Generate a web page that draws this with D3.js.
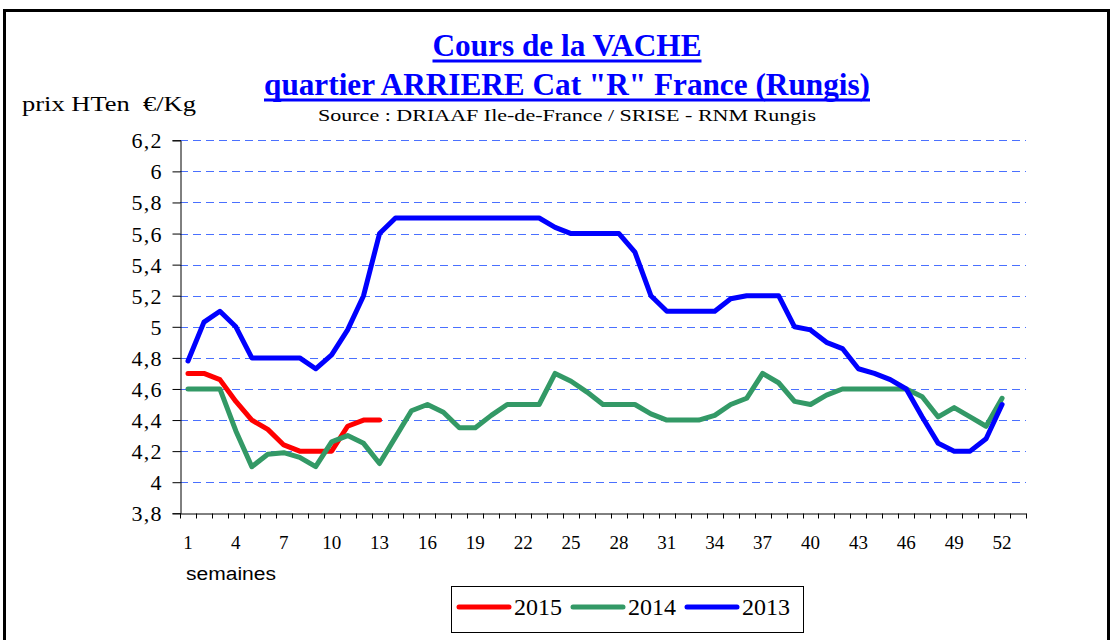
<!DOCTYPE html>
<html><head><meta charset="utf-8">
<script src="https://cdn.jsdelivr.net/npm/d3@7"></script>
<style>html,body{margin:0;padding:0;background:#fff}svg{display:block}</style>
</head><body>
<svg id="c" width="1114" height="640"></svg>
<script>
const weeks = d3.range(1, 54);
const xTickLabels = [1, 4, 7, 10, 13, 16, 19, 22, 25, 28, 31, 34, 37, 40, 43, 46, 49, 52];
const yTicks = [3.8, 4.0, 4.2, 4.4, 4.6, 4.8, 5.0, 5.2, 5.4, 5.6, 5.8, 6.0, 6.2];
const seriesNames = ["2015", "2014", "2013"];
const seriesColors = ["#FF0000", "#339966", "#0000FF"];
const v2015 = [4.70, 4.70, 4.66, 4.52, 4.40, 4.34, 4.24, 4.20, 4.20, 4.20, 4.36, 4.40, 4.40];
const v2014 = [4.60, 4.60, 4.60, 4.33, 4.10, 4.18, 4.19, 4.16, 4.10, 4.26, 4.30, 4.25, 4.12,
  4.29, 4.46, 4.50, 4.45, 4.35, 4.35, 4.43, 4.50, 4.50, 4.50, 4.70, 4.65, 4.58, 4.50,
  4.50, 4.50, 4.44, 4.40, 4.40, 4.40, 4.43, 4.50, 4.54, 4.70, 4.64, 4.52, 4.50, 4.56,
  4.60, 4.60, 4.60, 4.60, 4.60, 4.55, 4.42, 4.48, 4.42, 4.36, 4.54];
const v2013 = [4.78, 5.03, 5.10, 5.00, 4.80, 4.80, 4.80, 4.80, 4.73, 4.82, 4.98, 5.20, 5.60,
  5.70, 5.70, 5.70, 5.70, 5.70, 5.70, 5.70, 5.70, 5.70, 5.70, 5.64, 5.60, 5.60, 5.60,
  5.60, 5.48, 5.20, 5.10, 5.10, 5.10, 5.10, 5.18, 5.20, 5.20, 5.20, 5.00, 4.98, 4.90,
  4.86, 4.73, 4.70, 4.66, 4.60, 4.42, 4.25, 4.20, 4.20, 4.28, 4.50];
const seriesValues = [v2015, v2014, v2013];

const svg = d3.select("#c");
const serif = "'Liberation Serif', 'Times New Roman', serif";
const sans = "'Liberation Sans', Arial, sans-serif";

// outer frame
svg.append("rect").attr("x", 4.5).attr("y", 10.5).attr("width", 1104).attr("height", 700)
  .attr("fill", "none").attr("stroke", "#000").attr("stroke-width", 3);

const x = d3.scaleBand().domain(weeks).range([180, 1026]).paddingInner(0).paddingOuter(0);
const y = d3.scaleLinear().domain([3.8, 6.2]).range([513.3, 140.3]);
const cx = w => x(w) + x.bandwidth() / 2;

// gridlines
svg.append("g").selectAll("line").data(yTicks.filter(t => t > 3.8)).join("line")
  .attr("x1", 180).attr("x2", 1026)
  .attr("y1", d => Math.round(y(d)) + 0.5).attr("y2", d => Math.round(y(d)) + 0.5)
  .attr("stroke", "#4a70ff").attr("stroke-width", 1).attr("stroke-dasharray", "8,5");

// y axis
const yAxis = d3.axisLeft(y).tickValues(yTicks).tickSize(8).tickPadding(11)
  .tickFormat(d => d3.format("~g")(d).replace(".", ","));
const gy = svg.append("g").attr("transform", "translate(180.5,0)").call(yAxis);
gy.select(".domain").attr("stroke", "#000");
gy.selectAll(".tick line").attr("stroke", "#000");
gy.selectAll(".tick text").attr("font-family", serif).attr("font-size", 22).attr("fill", "#000")
  .attr("dy", "0.34em")
  .each(function () {
    const s = d3.select(this);
    if (s.text().length > 1) s.attr("textLength", 30).attr("lengthAdjust", "spacing");
  });

// x axis
const xAxis = d3.axisBottom(x).tickValues([]).tickSize(0);
const gx = svg.append("g").attr("transform", "translate(0,513.5)").call(xAxis);
gx.select(".domain").attr("stroke", "#000");
gx.selectAll("line.wk").data(weeks.concat([54])).join("line").attr("class", "wk")
  .attr("x1", d => d <= 53 ? Math.round(x(d)) + 0.5 : 1026.5)
  .attr("x2", d => d <= 53 ? Math.round(x(d)) + 0.5 : 1026.5)
  .attr("y1", 0).attr("y2", 5).attr("stroke", "#000");
svg.append("g").selectAll("text").data(xTickLabels).join("text")
  .attr("x", d => cx(d)).attr("y", 549).attr("text-anchor", "middle")
  .attr("font-family", serif).attr("font-size", 19).attr("fill", "#000")
  .text(d => d);

// lines
const line = d3.line().x((d, i) => cx(weeks[i])).y(d => y(d));
seriesValues.forEach((vals, k) => {
  svg.append("path").datum(vals).attr("d", line).attr("fill", "none")
    .attr("stroke", seriesColors[k]).attr("stroke-width", 5)
    .attr("stroke-linejoin", "round").attr("stroke-linecap", "round");
});

// titles
function titleLine(txt, yb, size, len) {
  svg.append("text").attr("x", 567).attr("y", yb).attr("text-anchor", "middle")
    .attr("font-family", serif).attr("font-weight", "bold").attr("font-size", size)
    .attr("textLength", len).attr("lengthAdjust", "spacingAndGlyphs")
    .attr("fill", "#0000FF").text(txt);
  svg.append("rect").attr("x", 567 - len / 2).attr("y", yb + 3.5).attr("width", len).attr("height", 3)
    .attr("fill", "#0000FF");
}
titleLine("Cours de la VACHE", 56, 31, 269);
titleLine("quartier ARRIERE Cat \"R\" France (Rungis)", 95, 31, 606);
svg.append("text").attr("x", 567).attr("y", 121).attr("text-anchor", "middle")
  .attr("font-family", serif).attr("font-size", 17).attr("fill", "#000")
  .attr("textLength", 498).attr("lengthAdjust", "spacingAndGlyphs")
  .text("Source : DRIAAF Ile-de-France / SRISE - RNM Rungis");
svg.append("text").attr("x", 22).attr("y", 111).attr("font-family", serif).attr("font-size", 20)
  .attr("textLength", 174).attr("lengthAdjust", "spacingAndGlyphs")
  .attr("fill", "#000").style("white-space", "pre").text("prix HTen  €/Kg");
svg.append("text").attr("x", 186).attr("y", 580).attr("font-family", sans).attr("font-size", 18)
  .attr("textLength", 90).attr("lengthAdjust", "spacingAndGlyphs")
  .attr("fill", "#000").text("semaines");

// legend
svg.append("rect").attr("x", 451.5).attr("y", 586.5).attr("width", 352).attr("height", 46)
  .attr("fill", "#fff").attr("stroke", "#000").attr("stroke-width", 1);
const legX = [459, 573, 687];
seriesNames.forEach((n, k) => {
  svg.append("line").attr("x1", legX[k]).attr("x2", legX[k] + 50).attr("y1", 607).attr("y2", 607)
    .attr("stroke", seriesColors[k]).attr("stroke-width", 5).attr("stroke-linecap", "round");
  svg.append("text").attr("x", legX[k] + 55).attr("y", 615).attr("font-family", serif)
    .attr("font-size", 23).attr("textLength", 48).attr("lengthAdjust", "spacingAndGlyphs")
    .attr("fill", "#000").text(n);
});
</script>
</body></html>
